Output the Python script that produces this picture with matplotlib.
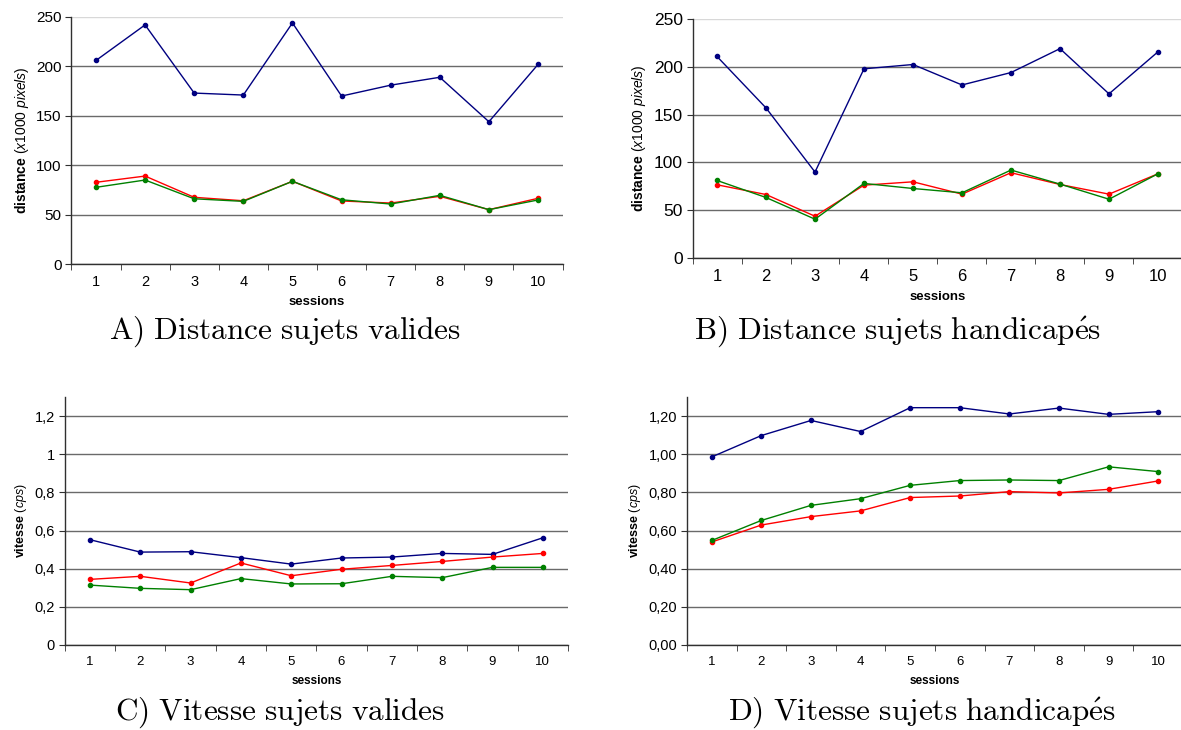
import matplotlib
matplotlib.use("Agg")
import matplotlib.pyplot as plt
import numpy as np

plt.rcParams['font.family'] = ['Liberation Sans', 'DejaVu Sans']
plt.rcParams['mathtext.fontset'] = 'custom'
plt.rcParams['mathtext.rm'] = 'Liberation Sans'
plt.rcParams['mathtext.it'] = 'Liberation Sans:italic'
plt.rcParams['mathtext.bf'] = 'Liberation Sans:bold'

sessions = [1, 2, 3, 4, 5, 6, 7, 8, 9, 10]

distA_blue = [206, 242, 173, 171, 244, 170, 181, 189, 144, 202]
distA_red = [82.7, 89, 67.5, 64, 83.7, 63.8, 61.7, 68.5, 55, 66.5]
distA_green = [77.6, 85, 66, 63.4, 83.7, 65, 60.7, 69.5, 55, 64.8]

distB_blue = [210.8, 157, 89.9, 197.9, 202.4, 181, 194, 219, 171.7, 215.7]
distB_red = [76.6, 66.4, 43.7, 76.2, 79.7, 66.8, 89.2, 76.9, 66.8, 88.1]
distB_green = [81.1, 63.3, 40.6, 78, 72.7, 68.2, 92, 77.3, 61.5, 88.1]

vitC_blue = [0.552, 0.487, 0.489, 0.458, 0.424, 0.456, 0.461, 0.480, 0.475, 0.562]
vitC_red = [0.344, 0.360, 0.325, 0.430, 0.363, 0.397, 0.417, 0.438, 0.461, 0.480]
vitC_green = [0.314, 0.297, 0.290, 0.348, 0.320, 0.321, 0.360, 0.353, 0.407, 0.407]

vitD_blue = [0.986, 1.098, 1.177, 1.119, 1.244, 1.244, 1.211, 1.242, 1.209, 1.223]
vitD_red = [0.540, 0.629, 0.673, 0.703, 0.773, 0.781, 0.804, 0.797, 0.816, 0.860]
vitD_green = [0.548, 0.653, 0.732, 0.767, 0.837, 0.862, 0.865, 0.862, 0.934, 0.909]

distA_ticks = [0, 50, 100, 150, 200, 250]
distB_ticks = [0, 50, 100, 150, 200, 250]
vitC_ticks = [0, 0.2, 0.4, 0.6, 0.8, 1.0, 1.2]
vitC_ticklabels = ['0', '0,2', '0,4', '0,6', '0,8', '1', '1,2']
vitD_ticks = [0, 0.2, 0.4, 0.6, 0.8, 1.0, 1.2]
vitD_ticklabels = ['0,00', '0,20', '0,40', '0,60', '0,80', '1,00', '1,20']

captions = [r'$\mathrm{A)\ Distance\ sujets\ valides}$',
            r'$\mathrm{B)\ Distance\ sujets\ handicap\acute{e}s}$',
            r'$\mathrm{C)\ Vitesse\ sujets\ valides}$',
            r'$\mathrm{D)\ Vitesse\ sujets\ handicap\acute{e}s}$']

W, H = 1181, 730
fig = plt.figure(figsize=(W / 100, H / 100), dpi=100)


def add_ax(l, r, t, b):
    return fig.add_axes([l / W, 1 - b / H, (r - l) / W, (b - t) / H])


BLUE = '#000080'
RED = '#ff0000'
GREEN = '#008000'
GRID = '#6a6a6a'
AX = '#303030'


def style(ax, series, yticks, yticklabels, ylim, ylabel, ytsize, xtsize, labsize, ylabsize,
          light_top=False):
    x = np.arange(1, len(sessions) + 1)
    for ys, c in series:
        ax.plot(x, ys, color=c, lw=1.0, marker='o', ms=3.0, zorder=3)
    ax.set_xlim(0.5, len(sessions) + 0.5)
    ax.set_ylim(*ylim)
    ax.set_yticks(yticks)
    ax.set_yticklabels(yticklabels, fontsize=ytsize)
    ax.set_xticks(x)
    ax.set_xticklabels([str(s) for s in sessions], fontsize=xtsize)
    ax.set_xticks(np.arange(0.5, len(sessions) + 1.0, 1.0), minor=True)
    ax.tick_params(axis='x', which='major', length=0, pad=8)
    ax.tick_params(axis='x', which='minor', length=4, color=AX, direction='out')
    ax.tick_params(axis='y', length=4, color=AX, direction='out', pad=3)
    for s in ['top', 'right']:
        ax.spines[s].set_visible(False)
    for s in ['left', 'bottom']:
        ax.spines[s].set_color(AX)
        ax.spines[s].set_linewidth(1.0)
    ax.grid(axis='y', color=GRID, lw=1.0)
    if light_top:
        ax.get_ygridlines()[-1].set_color('#d8d8d8')
    ax.set_axisbelow(True)
    ax.set_xlabel('sessions', fontsize=labsize, fontweight='bold', labelpad=5)
    ax.set_ylabel(ylabel, fontsize=ylabsize, labelpad=4)


axA = add_ax(71.4, 562.6, 17, 264)
style(axA, [(distA_blue, BLUE), (distA_red, RED), (distA_green, GREEN)],
      distA_ticks, [str(t) for t in distA_ticks], (0, 250),
      r'$\mathbf{distance}\ \mathit{(x1000\ pixels)}$', 11, 10.5, 9.5, 10, light_top=True)

axB = add_ax(692.5, 1182.5, 19, 258)
style(axB, [(distB_blue, BLUE), (distB_red, RED), (distB_green, GREEN)],
      distB_ticks, [str(t) for t in distB_ticks], (0, 250),
      r'$\mathbf{distance}\ \mathit{(x1000\ pixels)}$', 12.5, 12, 9.5, 10, light_top=True)

axC = add_ax(64.8, 568, 397, 645)
style(axC, [(vitC_blue, BLUE), (vitC_red, RED), (vitC_green, GREEN)],
      vitC_ticks, vitC_ticklabels, (0, 1.3),
      r'$\mathbf{vitesse}\ \mathit{(cps)}$', 10.5, 9.5, 8.5, 9)

axD = add_ax(687, 1183, 397, 645)
style(axD, [(vitD_blue, BLUE), (vitD_red, RED), (vitD_green, GREEN)],
      vitD_ticks, vitD_ticklabels, (0, 1.3),
      r'$\mathbf{vitesse}\ \mathit{(cps)}$', 10.5, 9.5, 8.5, 9)

cap_pos = [(285, 332), (898, 332), (280, 713), (922, 713)]
for (cx, cy), txt in zip(cap_pos, captions):
    fig.text(cx / W, 1 - cy / H, txt, ha='center', va='center',
             fontsize=22.5, math_fontfamily='cm')

fig.savefig('out.png', dpi=100)
